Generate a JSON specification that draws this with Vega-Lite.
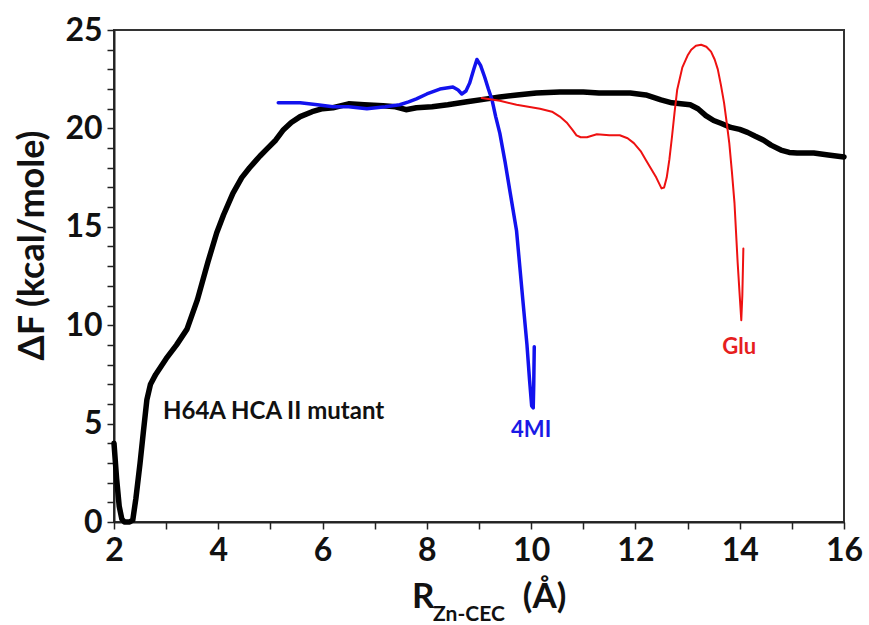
{
  "$schema": "https://vega.github.io/schema/vega-lite/v6.json",
  "width": 730,
  "height": 492,
  "autosize": {"type": "none"},
  "padding": {"left": 114, "top": 30, "right": 25, "bottom": 103},
  "background": "white",
  "config": {
    "font": "Lato",
    "view": {"stroke": "#333", "strokeWidth": 2},
    "axis": {"grid": false, "domainColor": "#222", "domainWidth": 2, "tickColor": "#222", "tickWidth": 1.5, "tickSize": 7, "labelFont": "Lato", "labelFontWeight": "bold", "labelFontSize": 32, "labelColor": "#111", "labelOverlap": false, "labelFlush": false}
  },
  "resolve": {"axis": {"y": "independent"}},
  "datasets": {
    "curves": [
      {"series": "H64A", "i": 1, "r": 2.0, "f": 4.0},
      {"series": "H64A", "i": 2, "r": 2.05, "f": 2.2},
      {"series": "H64A", "i": 3, "r": 2.1, "f": 0.8},
      {"series": "H64A", "i": 4, "r": 2.15, "f": 0.15},
      {"series": "H64A", "i": 5, "r": 2.2, "f": 0},
      {"series": "H64A", "i": 6, "r": 2.3, "f": 0},
      {"series": "H64A", "i": 7, "r": 2.36, "f": 0.1},
      {"series": "H64A", "i": 8, "r": 2.42, "f": 1.2},
      {"series": "H64A", "i": 9, "r": 2.5, "f": 3.0},
      {"series": "H64A", "i": 10, "r": 2.56, "f": 4.5},
      {"series": "H64A", "i": 11, "r": 2.63, "f": 6.2},
      {"series": "H64A", "i": 12, "r": 2.7, "f": 7.0},
      {"series": "H64A", "i": 13, "r": 2.8, "f": 7.5},
      {"series": "H64A", "i": 14, "r": 3.0, "f": 8.3},
      {"series": "H64A", "i": 15, "r": 3.2, "f": 9.0},
      {"series": "H64A", "i": 16, "r": 3.4, "f": 9.8},
      {"series": "H64A", "i": 17, "r": 3.6, "f": 11.3},
      {"series": "H64A", "i": 18, "r": 3.8, "f": 13.2},
      {"series": "H64A", "i": 19, "r": 3.97, "f": 14.7},
      {"series": "H64A", "i": 20, "r": 4.1, "f": 15.6},
      {"series": "H64A", "i": 21, "r": 4.28, "f": 16.7},
      {"series": "H64A", "i": 22, "r": 4.45, "f": 17.5},
      {"series": "H64A", "i": 23, "r": 4.6, "f": 18.0},
      {"series": "H64A", "i": 24, "r": 4.8, "f": 18.6},
      {"series": "H64A", "i": 25, "r": 4.93, "f": 18.95},
      {"series": "H64A", "i": 26, "r": 5.1, "f": 19.4},
      {"series": "H64A", "i": 27, "r": 5.24, "f": 19.9},
      {"series": "H64A", "i": 28, "r": 5.4, "f": 20.3},
      {"series": "H64A", "i": 29, "r": 5.57, "f": 20.6},
      {"series": "H64A", "i": 30, "r": 5.8, "f": 20.85},
      {"series": "H64A", "i": 31, "r": 6.0, "f": 21.0},
      {"series": "H64A", "i": 32, "r": 6.2, "f": 21.05},
      {"series": "H64A", "i": 33, "r": 6.5, "f": 21.25},
      {"series": "H64A", "i": 34, "r": 6.8, "f": 21.2},
      {"series": "H64A", "i": 35, "r": 7.16, "f": 21.15},
      {"series": "H64A", "i": 36, "r": 7.4, "f": 21.1},
      {"series": "H64A", "i": 37, "r": 7.6, "f": 20.95},
      {"series": "H64A", "i": 38, "r": 7.8, "f": 21.05},
      {"series": "H64A", "i": 39, "r": 8.1, "f": 21.1},
      {"series": "H64A", "i": 40, "r": 8.4, "f": 21.2},
      {"series": "H64A", "i": 41, "r": 8.77, "f": 21.35},
      {"series": "H64A", "i": 42, "r": 9.15, "f": 21.5},
      {"series": "H64A", "i": 43, "r": 9.4, "f": 21.6},
      {"series": "H64A", "i": 44, "r": 9.73, "f": 21.7},
      {"series": "H64A", "i": 45, "r": 10.1, "f": 21.8},
      {"series": "H64A", "i": 46, "r": 10.55, "f": 21.85},
      {"series": "H64A", "i": 47, "r": 11.0, "f": 21.85},
      {"series": "H64A", "i": 48, "r": 11.3, "f": 21.8},
      {"series": "H64A", "i": 49, "r": 11.9, "f": 21.8},
      {"series": "H64A", "i": 50, "r": 12.2, "f": 21.7},
      {"series": "H64A", "i": 51, "r": 12.49, "f": 21.45},
      {"series": "H64A", "i": 52, "r": 12.7, "f": 21.3},
      {"series": "H64A", "i": 53, "r": 12.87, "f": 21.25},
      {"series": "H64A", "i": 54, "r": 13.05, "f": 21.2},
      {"series": "H64A", "i": 55, "r": 13.2, "f": 21.0},
      {"series": "H64A", "i": 56, "r": 13.35, "f": 20.65},
      {"series": "H64A", "i": 57, "r": 13.5, "f": 20.4},
      {"series": "H64A", "i": 58, "r": 13.65, "f": 20.25},
      {"series": "H64A", "i": 59, "r": 13.83, "f": 20.05},
      {"series": "H64A", "i": 60, "r": 14.0, "f": 19.95},
      {"series": "H64A", "i": 61, "r": 14.15, "f": 19.8},
      {"series": "H64A", "i": 62, "r": 14.3, "f": 19.6},
      {"series": "H64A", "i": 63, "r": 14.46, "f": 19.4},
      {"series": "H64A", "i": 64, "r": 14.6, "f": 19.15},
      {"series": "H64A", "i": 65, "r": 14.79, "f": 18.9},
      {"series": "H64A", "i": 66, "r": 14.95, "f": 18.78},
      {"series": "H64A", "i": 67, "r": 15.1, "f": 18.75},
      {"series": "H64A", "i": 68, "r": 15.42, "f": 18.75},
      {"series": "H64A", "i": 69, "r": 15.7, "f": 18.65},
      {"series": "H64A", "i": 70, "r": 16.0, "f": 18.55},

      {"series": "4MI", "i": 1, "r": 5.15, "f": 21.3},
      {"series": "4MI", "i": 2, "r": 5.4, "f": 21.3},
      {"series": "4MI", "i": 3, "r": 5.57, "f": 21.3},
      {"series": "4MI", "i": 4, "r": 5.9, "f": 21.2},
      {"series": "4MI", "i": 5, "r": 6.2, "f": 21.1},
      {"series": "4MI", "i": 6, "r": 6.5, "f": 21.1},
      {"series": "4MI", "i": 7, "r": 6.85, "f": 21.0},
      {"series": "4MI", "i": 8, "r": 7.2, "f": 21.1},
      {"series": "4MI", "i": 9, "r": 7.48, "f": 21.2},
      {"series": "4MI", "i": 10, "r": 7.65, "f": 21.35},
      {"series": "4MI", "i": 11, "r": 7.8, "f": 21.5},
      {"series": "4MI", "i": 12, "r": 8.0, "f": 21.75},
      {"series": "4MI", "i": 13, "r": 8.25, "f": 22.0},
      {"series": "4MI", "i": 14, "r": 8.5, "f": 22.1},
      {"series": "4MI", "i": 15, "r": 8.6, "f": 21.95},
      {"series": "4MI", "i": 16, "r": 8.67, "f": 21.75},
      {"series": "4MI", "i": 17, "r": 8.75, "f": 21.9},
      {"series": "4MI", "i": 18, "r": 8.82, "f": 22.3},
      {"series": "4MI", "i": 19, "r": 8.9, "f": 23.0},
      {"series": "4MI", "i": 20, "r": 8.96, "f": 23.5},
      {"series": "4MI", "i": 21, "r": 9.03, "f": 23.2},
      {"series": "4MI", "i": 22, "r": 9.11, "f": 22.6},
      {"series": "4MI", "i": 23, "r": 9.18, "f": 22.0},
      {"series": "4MI", "i": 24, "r": 9.25, "f": 21.45},
      {"series": "4MI", "i": 25, "r": 9.32, "f": 20.6},
      {"series": "4MI", "i": 26, "r": 9.4, "f": 19.75},
      {"series": "4MI", "i": 27, "r": 9.5, "f": 18.3},
      {"series": "4MI", "i": 28, "r": 9.6, "f": 16.7},
      {"series": "4MI", "i": 29, "r": 9.72, "f": 14.8},
      {"series": "4MI", "i": 30, "r": 9.84, "f": 11.3},
      {"series": "4MI", "i": 31, "r": 9.92, "f": 9.0},
      {"series": "4MI", "i": 32, "r": 9.97, "f": 7.2},
      {"series": "4MI", "i": 33, "r": 10.01, "f": 5.9},
      {"series": "4MI", "i": 34, "r": 10.04, "f": 5.8},
      {"series": "4MI", "i": 35, "r": 10.05, "f": 7.0},
      {"series": "4MI", "i": 36, "r": 10.06, "f": 8.9},

      {"series": "Glu", "i": 1, "r": 9.05, "f": 21.55},
      {"series": "Glu", "i": 2, "r": 9.4, "f": 21.4},
      {"series": "Glu", "i": 3, "r": 9.72, "f": 21.2},
      {"series": "Glu", "i": 4, "r": 10.17, "f": 21.0},
      {"series": "Glu", "i": 5, "r": 10.4, "f": 20.85},
      {"series": "Glu", "i": 6, "r": 10.55, "f": 20.6},
      {"series": "Glu", "i": 7, "r": 10.68, "f": 20.3},
      {"series": "Glu", "i": 8, "r": 10.8, "f": 19.9},
      {"series": "Glu", "i": 9, "r": 10.87, "f": 19.65},
      {"series": "Glu", "i": 10, "r": 10.95, "f": 19.55},
      {"series": "Glu", "i": 11, "r": 11.07, "f": 19.55},
      {"series": "Glu", "i": 12, "r": 11.26, "f": 19.7},
      {"series": "Glu", "i": 13, "r": 11.5, "f": 19.65},
      {"series": "Glu", "i": 14, "r": 11.7, "f": 19.65},
      {"series": "Glu", "i": 15, "r": 11.85, "f": 19.5},
      {"series": "Glu", "i": 16, "r": 11.97, "f": 19.25},
      {"series": "Glu", "i": 17, "r": 12.1, "f": 18.85},
      {"series": "Glu", "i": 18, "r": 12.2, "f": 18.4},
      {"series": "Glu", "i": 19, "r": 12.3, "f": 17.95},
      {"series": "Glu", "i": 20, "r": 12.4, "f": 17.5},
      {"series": "Glu", "i": 21, "r": 12.5, "f": 16.95},
      {"series": "Glu", "i": 22, "r": 12.55, "f": 17.0},
      {"series": "Glu", "i": 23, "r": 12.6, "f": 17.5},
      {"series": "Glu", "i": 24, "r": 12.65, "f": 18.4},
      {"series": "Glu", "i": 25, "r": 12.7, "f": 19.55},
      {"series": "Glu", "i": 26, "r": 12.75, "f": 20.8},
      {"series": "Glu", "i": 27, "r": 12.8, "f": 21.95},
      {"series": "Glu", "i": 28, "r": 12.9, "f": 23.1},
      {"series": "Glu", "i": 29, "r": 13.0, "f": 23.7},
      {"series": "Glu", "i": 30, "r": 13.07, "f": 24.0},
      {"series": "Glu", "i": 31, "r": 13.16, "f": 24.2},
      {"series": "Glu", "i": 32, "r": 13.26, "f": 24.25},
      {"series": "Glu", "i": 33, "r": 13.36, "f": 24.15},
      {"series": "Glu", "i": 34, "r": 13.45, "f": 23.9},
      {"series": "Glu", "i": 35, "r": 13.52, "f": 23.5},
      {"series": "Glu", "i": 36, "r": 13.58, "f": 23.0},
      {"series": "Glu", "i": 37, "r": 13.64, "f": 22.2},
      {"series": "Glu", "i": 38, "r": 13.7, "f": 21.3},
      {"series": "Glu", "i": 39, "r": 13.75, "f": 20.3},
      {"series": "Glu", "i": 40, "r": 13.8, "f": 19.25},
      {"series": "Glu", "i": 41, "r": 13.85, "f": 17.8},
      {"series": "Glu", "i": 42, "r": 13.9, "f": 16.2},
      {"series": "Glu", "i": 43, "r": 13.96, "f": 13.2},
      {"series": "Glu", "i": 44, "r": 14.0, "f": 11.5},
      {"series": "Glu", "i": 45, "r": 14.03, "f": 10.25},
      {"series": "Glu", "i": 46, "r": 14.05, "f": 11.5},
      {"series": "Glu", "i": 47, "r": 14.07, "f": 13.9}
    ],
    "labels": [
      {"text": "4MI", "r": 10.0, "f": 4.7, "color": "#1a1ae6"},
      {"text": "Glu", "r": 13.99, "f": 8.9, "color": "#e61e1e"}
    ],
    "note": [
      {"text": "H64A HCA II mutant", "r": 2.94, "f": 5.6}
    ],
    "xtitle": [
      {"text": "R", "r": 7.715, "f": -4.37, "size": 35},
      {"text": "Zn-CEC", "r": 8.12, "f": -5.03, "size": 21},
      {"text": "(Å)", "r": 9.84, "f": -4.37, "size": 35}
    ]
  },
  "layer": [
    {
      "data": {"name": "curves"},
      "transform": [{"filter": "datum.series === 'H64A'"}],
      "mark": {"type": "line", "color": "#000000", "strokeWidth": 5.5, "strokeCap": "round", "strokeJoin": "round"},
      "encoding": {
        "x": {"field": "r", "type": "quantitative", "scale": {"domain": [2, 16], "nice": false, "zero": false},
          "axis": {"title": null, "values": [2,2.5,3,3.5,4,4.5,5,5.5,6,6.5,7,7.5,8,8.5,9,9.5,10,10.5,11,11.5,12,12.5,13,13.5,14,14.5,15,15.5,16],
            "labelExpr": "datum.value % 2 === 0 ? datum.label : ''", "labelPadding": 6, "labelOverlap": false}},
        "y": {"field": "f", "type": "quantitative", "scale": {"domain": [0, 25], "nice": false},
          "axis": {"orient": "left", "title": "ΔF (kcal/mole)", "titleFont": "Lato", "titleFontSize": 36, "titleFontWeight": "bold", "titleColor": "#111", "titleY": 215, "titleX": -71, "titleAlign": "center", "titleBaseline": "alphabetic", "titleAngle": -90,
            "values": [0, 5, 10, 15, 20, 25], "labelPadding": 5, "labelOverlap": false}},
        "order": {"field": "i", "type": "quantitative"}
      }
    },
    {
      "data": {"name": "curves"},
      "transform": [{"filter": "datum.series === '4MI'"}],
      "mark": {"type": "line", "color": "#1212ee", "strokeWidth": 3.5, "strokeCap": "round", "strokeJoin": "round"},
      "encoding": {
        "x": {"field": "r", "type": "quantitative"},
        "y": {"field": "f", "type": "quantitative",
          "axis": {"orient": "left", "title": null, "labels": false, "domain": false, "values": [1,2,3,4,6,7,8,9,11,12,13,14,16,17,18,19,21,22,23,24]}},
        "order": {"field": "i", "type": "quantitative"}
      }
    },
    {
      "data": {"name": "curves"},
      "transform": [{"filter": "datum.series === 'Glu'"}],
      "mark": {"type": "line", "color": "#ee1111", "strokeWidth": 2, "strokeCap": "round", "strokeJoin": "round"},
      "encoding": {
        "x": {"field": "r", "type": "quantitative"},
        "y": {"field": "f", "type": "quantitative", "axis": null},
        "order": {"field": "i", "type": "quantitative"}
      }
    },
    {
      "data": {"name": "labels"},
      "mark": {"type": "text", "font": "Lato", "fontWeight": "bold", "fontSize": 22, "baseline": "middle", "align": "center"},
      "encoding": {
        "x": {"field": "r", "type": "quantitative"},
        "y": {"field": "f", "type": "quantitative", "axis": null},
        "text": {"field": "text"},
        "color": {"field": "color", "type": "nominal", "scale": null}
      }
    },
    {
      "data": {"name": "note"},
      "mark": {"type": "text", "font": "Lato", "fontWeight": "bold", "fontSize": 24, "baseline": "middle", "align": "left", "color": "#111"},
      "encoding": {
        "x": {"field": "r", "type": "quantitative"},
        "y": {"field": "f", "type": "quantitative", "axis": null},
        "text": {"field": "text"}
      }
    },
    {
      "data": {"name": "xtitle"},
      "mark": {"type": "text", "font": "Lato", "fontWeight": "bold", "baseline": "alphabetic", "align": "left", "color": "#111"},
      "encoding": {
        "x": {"field": "r", "type": "quantitative"},
        "y": {"field": "f", "type": "quantitative", "axis": null},
        "text": {"field": "text"},
        "size": {"field": "size", "type": "quantitative", "scale": null}
      }
    }
  ]
}
